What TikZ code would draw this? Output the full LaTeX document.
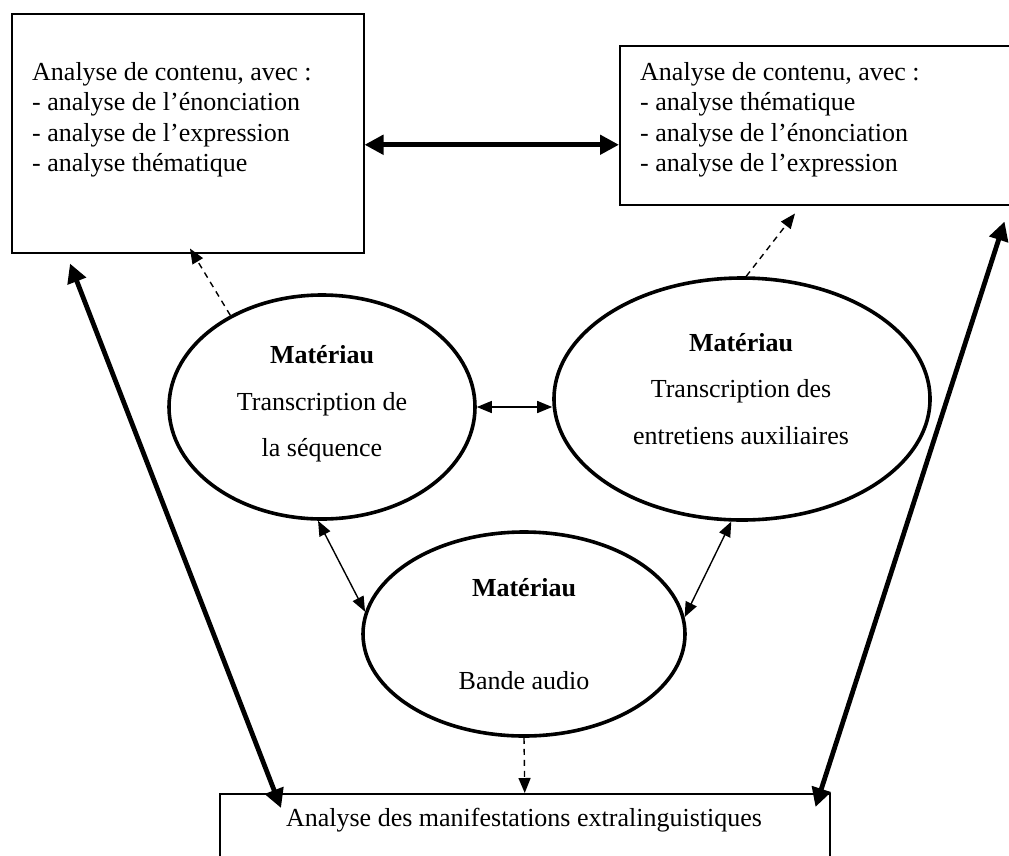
\documentclass[tikz,border=0pt]{standalone}
\usepackage{fontspec}
\setmainfont{Liberation Serif}
\usetikzlibrary{arrows.meta,shapes.geometric}
\begin{document}
\begin{tikzpicture}[x=1pt,y=-1pt,
  box/.style={draw,line width=1.5pt,inner sep=0pt,anchor=north west},
  boxtext/.style={anchor=north west,inner sep=0pt,align=left,font=\fontsize{26}{30.5}\selectfont},
  ell/.style={draw,ellipse,line width=3.6pt,inner sep=0pt},
  elltext/.style={inner sep=0pt,align=center,font=\fontsize{26}{46.5}\selectfont},
  thinarr/.style={line width=1.4pt,{Triangle[length=15pt,width=12pt]}-{Triangle[length=15pt,width=12pt]}},
  dasharr/.style={line width=1.4pt,dash pattern=on 6pt off 5pt,-{Triangle[length=15pt,width=12pt]}},
  thickarr/.style={line width=4.8pt,{Triangle[length=19pt,width=19pt]}-{Triangle[length=19pt,width=19pt]}}]
\useasboundingbox (0,0) rectangle (1009,855);
% boxes
\node[box,minimum width=352pt,minimum height=239pt] (lbox) at (11,13) {};
\node[box,minimum width=392pt,minimum height=159pt] (rbox) at (619,45) {};
\node[box,minimum width=610pt,minimum height=80pt] (bbox) at (219,793) {};
\node[boxtext] (ltext) at (32,62) {Analyse de contenu, avec :\\- analyse de l’énonciation\\- analyse de l’expression\\- analyse thématique};
\node[boxtext] (rtext) at (640,62) {Analyse de contenu, avec :\\- analyse thématique\\- analyse de l’énonciation\\- analyse de l’expression};
\node[font=\fontsize{26}{30.5}\selectfont,anchor=base,inner sep=0pt] (btext) at (524,826) {Analyse des manifestations extralinguistiques};
% ellipses
\node[ell,minimum width=306pt,minimum height=224pt] (e1) at (322,407) {};
\node[ell,minimum width=376pt,minimum height=242pt] (e2) at (742,399) {};
\node[ell,minimum width=322pt,minimum height=204pt] (e3) at (524,634) {};
\node[elltext] (e1t) at (322,404) {\textbf{Matériau}\\Transcription de\\la séquence};
\node[elltext] (e2t) at (741,389) {\textbf{Matériau}\\Transcription des\\entretiens auxiliaires};
\node[elltext] (e3t) at (524,634) {\textbf{Matériau}\\[46.5pt]Bande audio};
% connectors
\draw[thickarr] ([yshift=-11.5pt]lbox.east) -- ([yshift=-19.5pt]rbox.west);
\draw[thickarr] ([xshift=59pt,yshift=-10pt]lbox.south west) -- ([xshift=62pt,yshift=-15pt]bbox.north west);
\draw[thickarr] ([xshift=-15pt,yshift=-14pt]bbox.north east) -- ([xshift=-8pt,yshift=-16pt]rbox.south east);
\draw[thinarr] (e1.east) -- (e1.east -| e2.west);
\draw[thinarr] (e1.268) -- (e3.172);
\draw[thinarr] (e2.265) -- (e3.6);
\draw[dasharr] (e1.135) -- ([xshift=179pt,yshift=5pt]lbox.south west);
\draw[dasharr] (e2.88) -- ([xshift=176pt,yshift=-8pt]rbox.south west);
\draw[dasharr] (e3.south) -- (bbox.north);
\end{tikzpicture}
\end{document}
